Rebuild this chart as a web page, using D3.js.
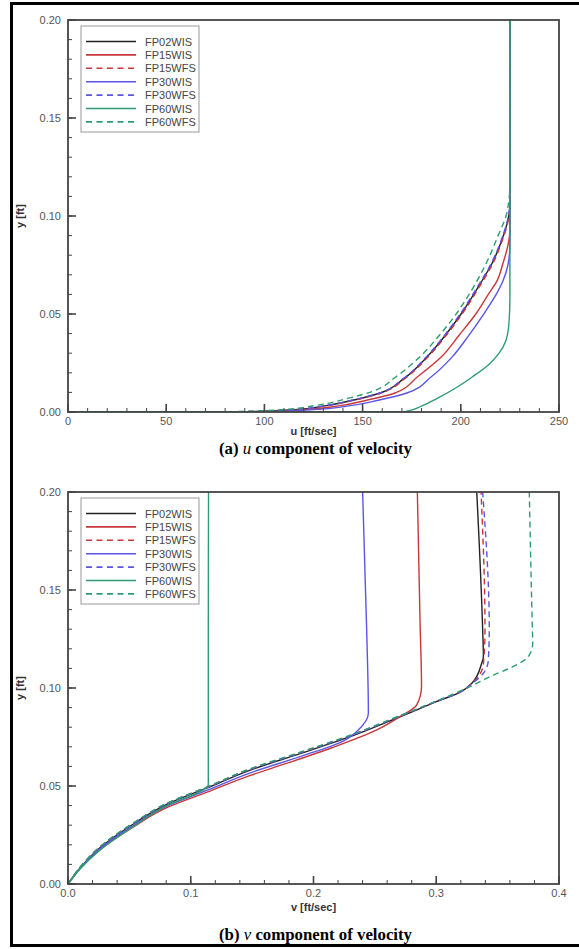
<!DOCTYPE html>
<html>
<head>
<meta charset="utf-8">
<script src="https://cdn.jsdelivr.net/npm/d3@7"></script>
<style>
  html, body { margin: 0; padding: 0; background: #fff; }
  svg { display: block; }
</style>
</head>
<body>
<svg id="chart" width="579" height="949"></svg>
<script>
// ---- series definitions ----
const seriesNames  = ["FP02WIS", "FP15WIS", "FP15WFS", "FP30WIS", "FP30WFS", "FP60WIS", "FP60WFS"];
const seriesColors = ["#222222", "#c8373a", "#c8373a", "#5a55e6", "#5a55e6", "#2c9c72", "#2c9c72"];
const seriesDashed = [false, false, true, false, true, false, true];

// ---- (a) u-velocity profiles: u [ft/sec] vs y [ft] ----
const uFP02WIS = [0, 90, 115, 130, 145, 159, 171, 182.7, 192, 200.5, 209, 216, 221, 224, 225, 225];
const yFP02WIS = [0, 0.0002, 0.0012, 0.003, 0.006, 0.0097, 0.017, 0.028, 0.039, 0.0505, 0.064, 0.076, 0.088, 0.098, 0.106, 0.2];
const uFP15WIS = [0, 95, 120, 137, 152, 166.5, 178, 190, 199, 208, 214, 218.5, 221.5, 224, 225, 225];
const yFP15WIS = [0, 0.0002, 0.0012, 0.003, 0.006, 0.0097, 0.018, 0.028, 0.039, 0.0505, 0.06, 0.067, 0.076, 0.085, 0.093, 0.2];
const uFP15WFS = [0, 90, 115.5, 130.5, 145.5, 159.5, 171.5, 183.2, 192.5, 201, 209.5, 216.4, 221.3, 224.2, 225, 225];
const yFP15WFS = [0, 0.0002, 0.0012, 0.003, 0.006, 0.0097, 0.017, 0.028, 0.039, 0.0505, 0.064, 0.076, 0.088, 0.098, 0.106, 0.2];
const uFP30WIS = [0, 100, 125, 142, 158, 172.5, 185, 195.5, 204, 212, 218, 221.5, 224, 225, 225];
const yFP30WIS = [0, 0.0002, 0.0012, 0.003, 0.006, 0.0097, 0.018, 0.028, 0.039, 0.0505, 0.06, 0.067, 0.075, 0.085, 0.2];
const uFP30WFS = [0, 90, 114.5, 129.5, 144.5, 158.6, 170.6, 182.3, 191.6, 200, 208.6, 215.6, 220.7, 223.8, 225, 225];
const yFP30WFS = [0, 0.0002, 0.0012, 0.003, 0.006, 0.0097, 0.017, 0.028, 0.039, 0.0505, 0.064, 0.076, 0.088, 0.098, 0.106, 0.2];
const uFP60WIS = [0, 172, 180, 188, 197, 206, 214, 219.5, 222.8, 224.5, 225, 225];
const yFP60WIS = [0, 0.0003, 0.003, 0.007, 0.012, 0.018, 0.024, 0.03, 0.036, 0.045, 0.058, 0.2];
const uFP60WFS = [0, 85, 110, 127, 142, 155, 167, 179, 189, 198, 206, 213, 219, 223, 224.5, 225, 225];
const yFP60WFS = [0, 0.0002, 0.0013, 0.0035, 0.0068, 0.0105, 0.018, 0.028, 0.039, 0.0505, 0.063, 0.076, 0.09, 0.1, 0.108, 0.116, 0.2];

// ---- (b) v-velocity profiles: v [ft/sec] vs y [ft] ----
const vFP02WIS  = [0, 0.01, 0.026, 0.053, 0.08, 0.114, 0.148, 0.189, 0.23, 0.27, 0.3, 0.32, 0.329, 0.337, 0.3384, 0.3378, 0.333];
const vyFP02WIS = [0, 0.0083, 0.0185, 0.0305, 0.0405, 0.0492, 0.058, 0.0665, 0.0752, 0.0852, 0.093, 0.098, 0.1024, 0.1126, 0.116, 0.13, 0.2];
const vFP15WIS  = [0, 0.01, 0.026, 0.053, 0.08, 0.114, 0.148, 0.1754, 0.215, 0.2515, 0.2705, 0.284, 0.288, 0.2868, 0.2846];
const vyFP15WIS = [0, 0.008, 0.0175, 0.029, 0.0388, 0.047, 0.0553, 0.061, 0.0695, 0.0786, 0.0854, 0.0913, 0.1007, 0.134, 0.2];
const vFP15WFS  = [0, 0.01, 0.026, 0.053, 0.08, 0.114, 0.148, 0.189, 0.23, 0.27, 0.3, 0.32, 0.329, 0.3384, 0.3397, 0.3365];
const vyFP15WFS = [0, 0.0086, 0.0189, 0.0309, 0.0409, 0.0496, 0.0585, 0.067, 0.0757, 0.0856, 0.0932, 0.0982, 0.1024, 0.112, 0.13, 0.2];
const vFP30WIS  = [0, 0.01, 0.026, 0.053, 0.08, 0.114, 0.148, 0.189, 0.225, 0.2365, 0.2447, 0.2433, 0.24];
const vyFP30WIS = [0, 0.0081, 0.018, 0.0297, 0.0396, 0.048, 0.0566, 0.065, 0.0732, 0.0786, 0.0871, 0.13, 0.2];
const vFP30WFS  = [0, 0.01, 0.026, 0.053, 0.08, 0.114, 0.148, 0.189, 0.23, 0.27, 0.3, 0.32, 0.329, 0.3384, 0.3424, 0.3432, 0.3378];
const vyFP30WFS = [0, 0.0085, 0.0188, 0.0308, 0.0408, 0.0495, 0.0584, 0.0669, 0.0756, 0.0855, 0.0931, 0.0981, 0.1022, 0.1075, 0.114, 0.13, 0.2];
const vFP60WIS  = [0, 0.01, 0.026, 0.053, 0.08, 0.112, 0.1143, 0.1143, 0.1145];
const vyFP60WIS = [0, 0.0078, 0.0172, 0.0292, 0.0398, 0.0488, 0.0505, 0.13, 0.2];
const vFP60WFS  = [0, 0.01, 0.026, 0.053, 0.08, 0.114, 0.148, 0.189, 0.23, 0.27, 0.3, 0.3275, 0.3438, 0.3628, 0.375, 0.3786, 0.3783, 0.3758];
const vyFP60WFS = [0, 0.0087, 0.019, 0.031, 0.041, 0.0497, 0.0587, 0.0672, 0.0759, 0.0858, 0.0933, 0.1007, 0.1058, 0.111, 0.116, 0.1228, 0.13, 0.2];

// ---- axis ticks ----
const uTicks = [0, 50, 100, 150, 200, 250];
const vTicks = [0.0, 0.1, 0.2, 0.3, 0.4];
const yTicks = [0.00, 0.05, 0.10, 0.15, 0.20];

const panelA = [
  [uFP02WIS, yFP02WIS], [uFP15WIS, yFP15WIS], [uFP15WFS, yFP15WFS],
  [uFP30WIS, yFP30WIS], [uFP30WFS, yFP30WFS], [uFP60WIS, yFP60WIS], [uFP60WFS, yFP60WFS]
];
const panelB = [
  [vFP02WIS, vyFP02WIS], [vFP15WIS, vyFP15WIS], [vFP15WFS, vyFP15WFS],
  [vFP30WIS, vyFP30WIS], [vFP30WFS, vyFP30WFS], [vFP60WIS, vyFP60WIS], [vFP60WFS, vyFP60WFS]
];

const svg = d3.select("#chart");

// outer frame of the figure
svg.append("line").attr("x1", 11.5).attr("x2", 11.5).attr("y1", 2).attr("y2", 947)
  .attr("stroke", "#000").attr("stroke-width", 3);
svg.append("line").attr("x1", 10).attr("x2", 579).attr("y1", 3.5).attr("y2", 3.5)
  .attr("stroke", "#000").attr("stroke-width", 3);
svg.append("line").attr("x1", 10).attr("x2", 579).attr("y1", 945.5).attr("y2", 945.5)
  .attr("stroke", "#000").attr("stroke-width", 3);

function drawPanel(opt) {
  const { left, top, width, height, xDomain, xTicks, xMinorStep, xFmt, xLabel,
          data, caption, captionVar, captionY, titleOffset, id } = opt;
  const g = svg.append("g");
  const x = d3.scaleLinear().domain(xDomain).range([left, left + width]);
  const y = d3.scaleLinear().domain([0, 0.2]).range([top + height, top]);

  g.append("clipPath").attr("id", id)
    .append("rect").attr("x", left).attr("y", top - 1).attr("width", width).attr("height", height + 1);

  // profiles: y is the independent coordinate, so interpolate monotonically in y
  const line = d3.line().x(d => x(d[0])).y(d => y(d[1])).curve(d3.curveMonotoneY);
  const curves = g.append("g").attr("clip-path", `url(#${id})`);
  data.forEach((s, i) => {
    const pts = s[0].map((v, k) => [v, s[1][k]]);
    curves.append("path").datum(pts)
      .attr("d", line)
      .attr("fill", "none")
      .attr("stroke", seriesColors[i])
      .attr("stroke-width", 1.4)
      .attr("stroke-dasharray", seriesDashed[i] ? "6,4" : null);
  });

  // inward-pointing ticks (major + minor)
  const xMinor = d3.range(xDomain[0], xDomain[1] + xMinorStep / 2, xMinorStep);
  const yMinor = d3.range(0, 0.2001, 0.01);
  const axisG = g.append("g").attr("stroke", "#444");
  xMinor.forEach(v => {
    axisG.append("line").attr("x1", x(v)).attr("x2", x(v))
      .attr("y1", top + height).attr("y2", top + height - 4).attr("stroke-width", 1);
  });
  xTicks.forEach(v => {
    axisG.append("line").attr("x1", x(v)).attr("x2", x(v))
      .attr("y1", top + height).attr("y2", top + height - 8).attr("stroke-width", 1.6);
  });
  yMinor.forEach(v => {
    axisG.append("line").attr("x1", left).attr("x2", left + 4)
      .attr("y1", y(v)).attr("y2", y(v)).attr("stroke-width", 1);
  });
  yTicks.forEach(v => {
    axisG.append("line").attr("x1", left).attr("x2", left + 8)
      .attr("y1", y(v)).attr("y2", y(v)).attr("stroke-width", 1.6);
  });

  // plot frame
  g.append("rect").attr("x", left).attr("y", top).attr("width", width).attr("height", height)
    .attr("fill", "none").attr("stroke", "#444").attr("stroke-width", 1.8);

  // tick labels
  const tickFont = "'Liberation Sans', Arial, sans-serif";
  g.selectAll(".xt").data(xTicks).enter().append("text")
    .attr("x", d => x(d)).attr("y", top + height + 13)
    .attr("text-anchor", "middle").attr("font-family", tickFont)
    .attr("font-size", 11).attr("fill", "#555").text(xFmt);
  g.selectAll(".yt").data(yTicks).enter().append("text")
    .attr("x", left - 7).attr("y", d => y(d) + 4)
    .attr("text-anchor", "end").attr("font-family", tickFont)
    .attr("font-size", 11).attr("fill", "#555").text(d3.format(".2f"));

  // axis titles
  g.append("text").attr("x", left + width / 2).attr("y", top + height + titleOffset)
    .attr("text-anchor", "middle").attr("font-family", tickFont)
    .attr("font-size", 11).attr("font-weight", "bold").attr("fill", "#333").text(xLabel);
  g.append("text").attr("transform", `translate(24,${top + height / 2}) rotate(-90)`)
    .attr("text-anchor", "middle").attr("font-family", tickFont)
    .attr("font-size", 11).attr("font-weight", "bold").attr("fill", "#333").text("y [ft]");

  // legend
  const lx = left + 13, ly = top + 6, rowH = 13.4;
  const leg = g.append("g");
  leg.append("rect").attr("x", lx).attr("y", ly).attr("width", 118).attr("height", 106)
    .attr("fill", "#fff").attr("stroke", "#999").attr("stroke-width", 1);
  seriesNames.forEach((name, i) => {
    const ry = ly + 15.5 + i * rowH;
    leg.append("line").attr("x1", lx + 5).attr("x2", lx + 55).attr("y1", ry).attr("y2", ry)
      .attr("stroke", seriesColors[i]).attr("stroke-width", 1.6)
      .attr("stroke-dasharray", seriesDashed[i] ? "6,4.5" : null);
    leg.append("text").attr("x", lx + 64).attr("y", ry + 4)
      .attr("font-family", tickFont).attr("font-size", 11).attr("fill", "#444").text(name);
  });

  // caption
  const cap = g.append("text").attr("x", left + width / 2 + 2).attr("y", captionY)
    .attr("text-anchor", "middle")
    .attr("font-family", "'Liberation Serif', 'DejaVu Serif', serif")
    .attr("font-size", 16.8).attr("font-weight", "bold").attr("fill", "#000");
  cap.append("tspan").text(caption[0] + " ");
  cap.append("tspan").attr("font-style", "italic").attr("font-weight", "normal").text(captionVar);
  cap.append("tspan").text(" " + caption[1]);
}

drawPanel({
  id: "clipA", left: 68, top: 20, width: 491, height: 392,
  xDomain: [0, 250], xTicks: uTicks, xMinorStep: 10, xFmt: d3.format("d"),
  xLabel: "u [ft/sec]", data: panelA, titleOffset: 23,
  caption: ["(a)", "component of velocity"], captionVar: "u", captionY: 454
});

drawPanel({
  id: "clipB", left: 68, top: 492, width: 491, height: 392,
  xDomain: [0, 0.4], xTicks: vTicks, xMinorStep: 0.02, xFmt: d3.format(".1f"),
  xLabel: "v [ft/sec]", data: panelB, titleOffset: 27,
  caption: ["(b)", "component of velocity"], captionVar: "v", captionY: 940
});
</script>
</body>
</html>
